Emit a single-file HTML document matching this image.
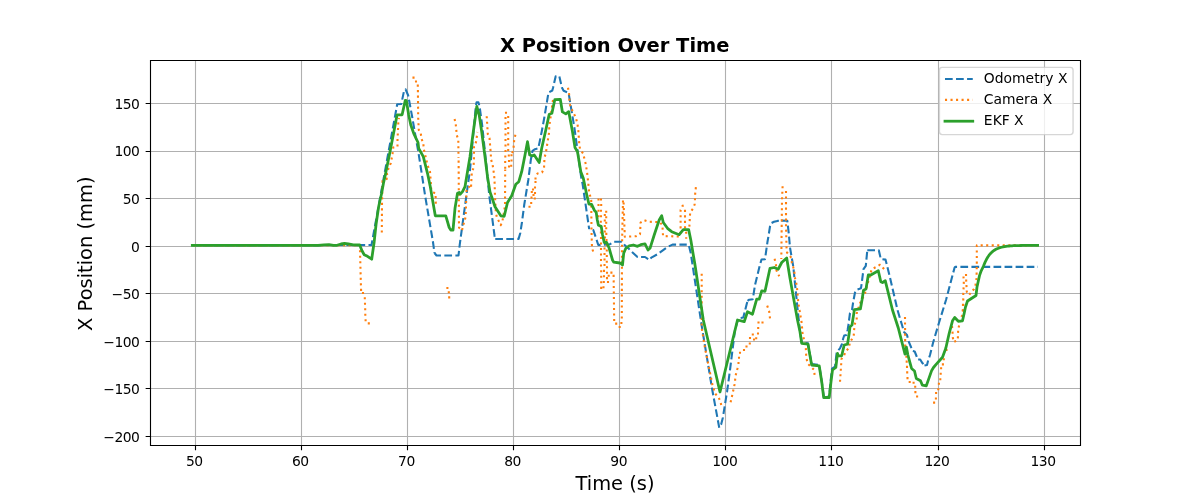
<!DOCTYPE html>
<html><head><meta charset="utf-8"><title>X Position Over Time</title>
<style>html,body{margin:0;padding:0;background:#fff;overflow:hidden}svg{display:block;will-change:transform}</style></head>
<body>
<svg width="1200" height="500" viewBox="0 0 1200 500">
<rect x="0" y="0" width="1200" height="500" fill="#ffffff"/>
<defs><clipPath id="ax"><rect x="150" y="60" width="930" height="385"/></clipPath></defs>
<path d="M195.5 60 V445 M301.5 60 V445 M407.5 60 V445 M513.5 60 V445 M619.5 60 V445 M725.5 60 V445 M831.5 60 V445 M938.5 60 V445 M1044.5 60 V445 M150 436.5 H1080 M150 388.5 H1080 M150 341.5 H1080 M150 293.5 H1080 M150 246.5 H1080 M150 198.5 H1080 M150 151.5 H1080 M150 103.5 H1080" fill="none" stroke="#b0b0b0" stroke-width="1.111"/>
<g clip-path="url(#ax)" fill="none" stroke-linejoin="round">
<path d="M192.3 245.3 L371.5 245 L397.2 104.3 L401.3 104 L403.8 92 L405.6 89.3 L408.2 95.5 L412.2 117 L415 133.3 L418.3 151.7 L421.7 173.3 L425 195 L432.9 241.5 L434.5 253" stroke="#1f77b4" stroke-width="2.083" stroke-dasharray="7.708 3.333" stroke-dashoffset="0.450"/>
<path d="M434.5 253 L436.5 255.5 L458.5 255.5 L459.7 245 L466.7 193.3 L470 170 L475.9 105.5 L476.6 102.3 L478.4 102.3 L479.6 106.5 L482.2 125.5 L486.7 168.3 L489.2 195 L494.5 235.5 L495.1 239" stroke="#1f77b4" stroke-width="2.083" stroke-dasharray="7.708 3.333" stroke-dashoffset="0.000"/>
<path d="M495.1 239 L518.6 238.9 L520.3 233 L522 222 L524.2 205 L528.3 180 L530.8 160 L532.5 150.8 L535 149.2 L538.3 148.3 L541.7 131.7 L544.2 118.3 L548.5 92.5 L552.3 90.5 L553 88 L555.7 76.2 L559.3 76.2" stroke="#1f77b4" stroke-width="2.083" stroke-dasharray="7.708 3.333" stroke-dashoffset="10.892"/>
<path d="M559.3 76.2 L561.9 87.5 L563.6 90.8 L567.2 92.3 L568.6 93 L574.4 127.8 L581.7 181 L582.5 183.3 L589.2 229.2" stroke="#1f77b4" stroke-width="2.083" stroke-dasharray="7.708 3.333" stroke-dashoffset="10.742"/>
<path d="M589.2 229.2 L593.3 230 L598.3 245 L610 244.2 L613.3 242 L614.2 241.7" stroke="#1f77b4" stroke-width="2.083" stroke-dasharray="7.708 3.333" stroke-dashoffset="7.536"/>
<path d="M614.2 241.7 L621.8 241.7 L624.6 245 L629.6 249.6 L632 252 L637.5 257 L645 257 L649.5 260 L651.3 257.7 L657.5 254.2 L666.7 247.5 L672.5 244.6 L680 244.6" stroke="#1f77b4" stroke-width="2.083" stroke-dasharray="7.708 3.333" stroke-dashoffset="0.000"/>
<path d="M680 244.6 L688.7 244.6 L690.8 253.3 L701.7 325.8 L712.3 390 L719.25 427.8" stroke="#1f77b4" stroke-width="2.083" stroke-dasharray="7.708 3.333" stroke-dashoffset="0.949"/>
<path d="M719.25 427.8 L721.1 424.6 L722.9 417.5 L724.7 406.2 L727.1 391.4 L730 370 L735 330 L738.3 318.3 L743.3 317.5 L747.5 300.8" stroke="#1f77b4" stroke-width="2.083" stroke-dasharray="7.708 3.333" stroke-dashoffset="7.542"/>
<path d="M747.5 300.8 L749.2 299.7 L752.8 299.2 L755 285 L760 264.5 L760.5 263" stroke="#1f77b4" stroke-width="2.083" stroke-dasharray="7.708 3.333" stroke-dashoffset="1.456"/>
<path d="M760.5 263 L761.5 259.5 L765 259.2 L767.5 241.7 L768.75 234.5 L770 226.5 L771.2 223.2 L774 221.8 L777.5 220.9 L781.25 220.6" stroke="#1f77b4" stroke-width="2.083" stroke-dasharray="7.708 3.333" stroke-dashoffset="0.000"/>
<path d="M781.25 220.6 L787.3 220.7 L788.75 233.3 L790 247.5 L793.3 266.7 L797.5 308.3 L800 331 L801.7 342.5 L808 343.4 L810 355 L811.7 364 L819.2 365 L821.7 381 L823.7 396.7 L829.2 396.7" stroke="#1f77b4" stroke-width="2.083" stroke-dasharray="7.708 3.333" stroke-dashoffset="0.000"/>
<path d="M829.2 396.7 L830.6 381 L832 368.5 L835 366.5 L836.6 353 L837.3 351.5 L840 348.3 L842 344 L843.2 338.5 L844.2 335.5 L846.6 335 L847.6 330 L848.6 324 L849 320.5" stroke="#1f77b4" stroke-width="2.083" stroke-dasharray="7.708 3.333" stroke-dashoffset="6.261"/>
<path d="M849 320.5 L850 313 L852 310 L853.2 302 L855 292.5 L856.5 289.8 L861 288.2 L861.6 284 L863.5 269.2 L865.8 265.8 L867.3 250.3" stroke="#1f77b4" stroke-width="2.083" stroke-dasharray="7.708 3.333" stroke-dashoffset="0.000"/>
<path d="M867.3 250.3 L878.8 250.3 L880.8 259 L885.5 259.6 L889.2 274.2 L897.5 310 L902 325 L904 332 L907 335 L908.5 341 L911 347 L912.5 351 L914.7 351.5 L916.5 356 L917.5 359.5 L920.2 359.5 L922 362.5 L924.5 365.5" stroke="#1f77b4" stroke-width="2.083" stroke-dasharray="7.708 3.333" stroke-dashoffset="0.000"/>
<path d="M924.5 365.5 L927 365 L928 361 L930 355 L933 343 L938 326 L946 300 L954.6 267.5 L955.3 266.9 L960.4 266.9" stroke="#1f77b4" stroke-width="2.083" stroke-dasharray="7.708 3.333" stroke-dashoffset="0.487"/>
<path d="M960.4 266.9 L1038 266.9" stroke="#1f77b4" stroke-width="2.083" stroke-dasharray="7.708 3.333" stroke-dashoffset="0.000"/>
<path d="M193.9 245.4 L359.7 245.3" stroke="#ff7f0e" stroke-width="2.083" stroke-dasharray="2.083 3.438"/>
<path d="M360 250.2 L360.6 273.6 L361.1 291.04" stroke="#ff7f0e" stroke-width="2.083" stroke-dasharray="2.083 3.438"/>
<path d="M381.8 232.5 L382 203 L382.5 181 L388 178 L386.7 173 L390.8 163 L392.5 154 L393.3 147.5 L397.5 146.7 L397.5 140 L398 130 L398.3 123 L399 118" stroke="#ff7f0e" stroke-width="2.083" stroke-dasharray="2.083 3.438"/>
<path d="M417.9 90.06 L418.2 118 L418.8 130 L420.8 133.5 L421.5 138.8 L423.4 143.5 L423.6 148.3 L425.8 157.5 L427.5 165 L430 171.7 L430.8 182 L431.2 189 L433 192.5 L435.5 193 L435.8 204.6" stroke="#ff7f0e" stroke-width="2.083" stroke-dasharray="2.083 3.438"/>
<path d="M454.6 119 L455.8 124.8 L456.8 135.2 L458.3 139.8 L458.5 158" stroke="#ff7f0e" stroke-width="2.083" stroke-dasharray="2.083 3.438"/>
<path d="M458.6 160.56 L458.8 190 L459 227.6 L462 230.6 L463 225.8 L464.6 221 L465.6 216.8 L465.8 211.4 L466 206 L466.6 188.6 L469.2 186.8 L471 188.6 L471.2 183 L471.8 172.5 L473.5 168 L474 157 L474 146 L476 142.2 L477.5 132" stroke="#ff7f0e" stroke-width="2.083" stroke-dasharray="2.083 3.438"/>
<path d="M486.7 116.2 L487.8 134 L489.5 138.2 L490.8 154 L491 159.5 L492.5 164 L494 174 L494.5 180 L495 196 L495.8 212 L496.8 217 L500.8 225.2 L502.5 220.8 L505 206 L505.2 169.5" stroke="#ff7f0e" stroke-width="2.083" stroke-dasharray="2.083 3.438"/>
<path d="M515.4 134.8 L514.2 140 L513.8 145.5 L513 150.8 L512 153.5" stroke="#ff7f0e" stroke-width="2.083" stroke-dasharray="2.083 3.438"/>
<path d="M553 100 L549.2 126.8 L549.2 131.7 L545.8 153.3 L544.5 157.5 L544 168.5 L542 172.5 L537.5 173.5 L535.5 176.5 L535.5 180" stroke="#ff7f0e" stroke-width="2.083" stroke-dasharray="2.083 3.438"/>
<path d="M568 87.7 L569.1 94 L569.7 104.1 L572.5 111 L575.8 117.5 L577.5 124.2 L578.3 130 L579.2 143.3 L580 149.2 L583 153.3 L585.8 164.2 L587.2 173.3 L588.3 183.3 L588.8 189 L589.5 194.5 L591.2 198 L591.5 231 L592 248 L593.5 252.5" stroke="#ff7f0e" stroke-width="2.083" stroke-dasharray="2.083 3.438"/>
<path d="M613.6 274.86 L614.2 321.1" stroke="#ff7f0e" stroke-width="2.083" stroke-dasharray="2.083 3.438"/>
<path d="M621.8 318.54 L621.9 280 L622 246 L623 200" stroke="#ff7f0e" stroke-width="2.083" stroke-dasharray="2.083 3.438"/>
<path d="M623.6 202.5 L624.8 236.8 L636 236.2 L640 234.2 L640.6 222.6 L644.2 220.2 L649 221.8 L655.6 222 L659.8 222 L662.2 225 L662.8 230.4 L663 236 L679.4 236.6 L680.6 232 L680.6 210 L682.6 205.8 L685 205" stroke="#ff7f0e" stroke-width="2.083" stroke-dasharray="2.083 3.438"/>
<path d="M685 209.8 L685 227.2 L686.2 232.8 L686.2 238.8" stroke="#ff7f0e" stroke-width="2.083" stroke-dasharray="2.083 3.438"/>
<path d="M695.9 187.2 L695.2 193.4 L695 199 L694.6 204.6 L692.8 208.8 L690.2 212.4 L689.8 217.8 L689.6 223.2 L689.2 228.4" stroke="#ff7f0e" stroke-width="2.083" stroke-dasharray="2.083 3.438"/>
<path d="M701.7 273.7 L701.7 328 L703.3 338 L705 348 L712.5 385 L715.2 393.6 L718.1 396.8 L720.2 400.6 L721.5 406.3" stroke="#ff7f0e" stroke-width="2.083" stroke-dasharray="2.083 3.438"/>
<path d="M730.6 402.3 L733 391.7 L735 382.5 L735.3 376.7 L737.5 368.3 L738 366" stroke="#ff7f0e" stroke-width="2.083" stroke-dasharray="2.083 3.438"/>
<path d="M767.2 305.7 L769.2 311.7 L770 318.3" stroke="#ff7f0e" stroke-width="2.083" stroke-dasharray="2.083 3.438"/>
<path d="M774.6 258.8 L776 265 L776.5 270.5 L778.1 274.2 L779.3 276.3" stroke="#ff7f0e" stroke-width="2.083" stroke-dasharray="2.083 3.438"/>
<path d="M782.6 186.2 L782 200 L781.3 259" stroke="#ff7f0e" stroke-width="2.083" stroke-dasharray="2.083 3.438"/>
<path d="M786 191 L786 225 L786.5 247 L787 252.5 L791.5 258 L791.8 263 L793.5 268 L794.5 273 L795 278 L796.7 285 L797.5 293 L798.3 303 L801.7 323 L802.5 333.3 L805.8 347.5 L806.3 358.3 L808.3 364.2 L814.2 370 L814.7 376.8" stroke="#ff7f0e" stroke-width="2.083" stroke-dasharray="2.083 3.438"/>
<path d="M840 381.8 L840.8 370 L841.5 359 L844 355.5 L846 351 L849 348 L849.8 342.8 L852 339 L853.8 334.8 L854.2 329 L855 323.5 L856.7 320 L856.7 313.3 L860 303.3 L865 293.3 L871.7 269.2 L876.7 266.7 L880 264.7 L885.8 270.8" stroke="#ff7f0e" stroke-width="2.083" stroke-dasharray="2.083 3.438"/>
<path d="M905 317 L905.2 346.9" stroke="#ff7f0e" stroke-width="2.083" stroke-dasharray="2.083 3.438"/>
<path d="M963 303.8 L962.8 310 L962 315.5 L960.8 319 L959.5 324 L958.2 329 L958 334.5 L957.8 340 L953.8 342 L952.8 337.5 L952.5 332 L952 326" stroke="#ff7f0e" stroke-width="2.083" stroke-dasharray="2.083 3.438"/>
<path d="M963.2 311.5 L963.3 294 L963.8 283 L963.5 276.5" stroke="#ff7f0e" stroke-width="2.083" stroke-dasharray="2.083 3.438"/>
<path d="M966 274 L966.2 280.8 L966.5 286.3 L966.8 291.8 L969 295 L971.5 292 L974 289 L975.5 284.5 L976.5 279 L976.8 265" stroke="#ff7f0e" stroke-width="2.083" stroke-dasharray="2.083 3.438"/>
<path d="M976.8 263.64 L976.8 245.4 L1037.6 245.4" stroke="#ff7f0e" stroke-width="2.083" stroke-dasharray="2.083 3.438"/>
<path d="M610.36 272.6h2.08 M615.16 323.6h2.08 M618.66 327h2.08 M620.36 323h2.08 M904.76 351.2h2.08 M905.36 356.7h2.08 M905.66 361.6h2.08 M905.96 366.9h2.08 M906.16 372.4h2.08 M906.46 378.1h2.08 M908.66 382h2.08 M912.56 382.7h2.08 M914.16 386.7h2.08 M914.36 392.1h2.08 M916.06 396.5h2.08 M933.06 402.6h2.08 M934.86 398.5h2.08 M935.06 393h2.08 M937.26 389.3h2.08 M937.86 383.8h2.08 M939.26 379.2h2.08 M939.66 373.7h2.08 M940.06 368.2h2.08 M941.86 364.4h2.08 M942.76 359.2h2.08 M945.46 350h2.08 M361.96 293h2.08 M363.76 298.2h2.08 M363.96 303.8h2.08 M364.16 309.2h2.08 M364.26 314.8h2.08 M364.56 320.2h2.08 M367.76 323.4h2.08 M446.36 288h2.08 M447.76 292.3h2.08 M448.16 297.4h2.08 M737.46 363h2.08 M737.96 357.8h2.08 M738.96 352.8h2.08 M742.96 350h2.08 M745.46 346.5h2.08 M748.76 343.5h2.08 M748.96 338h2.08 M751.76 334.5h2.08 M752.96 339.5h2.08 M755.16 338.2h2.08 M756.96 333.5h2.08 M757.16 328h2.08 M757.46 322.5h2.08 M761.46 322.5h2.08 M412.46 77.6h2.08 M414.96 81.5h2.08 M416.76 85.6h2.08 M504.96 112.8h2.08 M507.16 117h2.08 M504.46 118h2.08 M507.16 122.2h2.08 M504.46 123.5h2.08 M507.16 128h2.08 M504.46 129h2.08 M507.16 133.2h2.08 M504.46 134.5h2.08 M507.16 139h2.08 M504.46 140h2.08 M507.16 144.5h2.08 M504.46 145.5h2.08 M507.16 150h2.08 M504.46 151h2.08 M507.76 155.5h2.08 M510.46 155.2h2.08 M504.26 156.5h2.08 M507.96 161h2.08 M510.46 160.5h2.08 M504.16 162h2.08 M507.96 166.5h2.08 M510.16 165.8h2.08 M504.16 167.8h2.08 M534.46 182h2.08 M533.96 187.5h2.08 M531.96 189.5h2.08 M530.76 192h2.08 M533.96 193h2.08 M532.46 195h2.08 M530.46 197.5h2.08 M533.76 198.5h2.08 M530.16 203h2.08 M528.46 206.8h2.08 M597.46 199.5h2.08 M599.96 199.5h2.08 M597.46 205h2.08 M600.16 205h2.08 M597.46 210.8h2.08 M599.96 210.8h2.08 M597.46 216.2h2.08 M599.96 216.2h2.08 M599.76 221.8h2.08 M599.76 227h2.08 M599.86 232.5h2.08 M599.96 238h2.08 M599.96 243.5h2.08 M599.96 249h2.08 M599.96 254.5h2.08 M599.96 260h2.08 M599.96 265.5h2.08 M600.16 271.3h2.08 M602.96 270.9h2.08 M600.16 276.7h2.08 M602.96 276.2h2.08 M600.16 282.3h2.08 M602.76 282h2.08 M600.16 287.9h2.08 M602.46 287.3h2.08 M605.16 211.8h2.08 M603.76 215h2.08 M605.16 217.2h2.08 M603.76 220.5h2.08 M605.16 222.8h2.08 M603.76 226h2.08 M605.16 228.2h2.08 M603.76 231.5h2.08 M605.26 233.9h2.08 M603.96 237.5h2.08 M605.46 240h2.08 M603.96 243h2.08 M605.76 245.2h2.08 M603.46 248.5h2.08 M605.76 250.5h2.08 M603.46 254h2.08 M605.76 256h2.08 M603.46 259.5h2.08 M605.76 261.8h2.08 M603.46 265h2.08 M605.96 267.2h2.08 M605.96 272.7h2.08 M607.66 275.8h2.08 M605.96 278.1h2.08 M606.96 282h2.08" stroke="#ff7f0e" stroke-width="2.083"/>
<path d="M192.3 245.4 L318 245.4 L324 244.9 L329 244.7 L333.5 245.4 L337 245.3 L341 244 L344.5 243.5 L348.3 243.8 L353.3 244.8 L359.7 245 L362 250.8 L364.2 254.7 L367.5 256.3 L371.7 259.2 L374.2 241.7 L376.1 224 L378.6 207 L380.1 200 L381.5 194 L383.4 183.5 L385.3 175 L390 151.7 L394.2 130 L396.7 116.7 L397.1 114.8 L402.1 114.8 L405.3 100.3 L406.4 100.6 L408.7 115 L410.8 125 L413.7 133.3 L418 142.5 L418.7 148.3 L423.3 156.7 L427.5 173.3 L430.3 186.7 L431.7 195 L435.3 215.8 L445.8 215.8 L449.2 227.5 L450.8 230 L453 230 L455 208.3 L457.5 193.3 L459.2 192.5 L460.3 194.2 L462.5 191.7 L465 186.7 L465.8 181.7 L470 156.7 L473.3 131.7 L476.8 106.5 L479.2 115 L481.7 131.7 L485 156.7 L487.5 176.7 L490 192 L492.5 199.2 L495 206.7 L500.8 215.8 L504.2 216.3 L507.5 202.5 L511.7 195.8 L515.8 184.2 L518.8 181.7 L521.7 171.7 L525 155 L527.5 141.7 L529.7 155 L532.5 155.8 L534.2 155 L539.2 162.5 L541.7 148.3 L545.8 130 L549.2 114.2 L551.9 113.2 L554.8 99.7 L560.3 99.3 L562.4 111.9 L565.8 113.9 L568.7 111.6 L572.5 131.7 L575 147.5 L577.5 151.7 L580.8 171.7 L583.3 178.3 L586.7 194.5 L588.9 204 L591.6 204.3 L594.3 210.2 L596.2 212.2 L597.3 220 L598.4 225.2 L601.2 226.3 L602.6 235 L604.2 242.5 L606.7 242.5 L609.2 248.3 L612.5 260 L613.7 262.2 L620 263 L622.5 265 L623.7 253.3 L625.8 248.3 L629.2 245.8 L633.3 245 L637.5 246.3 L640.8 244.7 L645 243.8 L648 250 L650 248.3 L654.2 235 L659.2 220 L661.7 215.8 L663.3 222.5 L667.5 228.3 L671.7 231.7 L679.2 234.7 L683.3 229.7 L688.7 229.7 L690.8 240 L693.3 255 L694.7 263 L703.3 320 L720 392 L737.5 320 L744.2 321.7 L747.5 311.7 L752.5 314.2 L756.7 299.2 L759.2 299.2 L761.7 290.8 L765 291.3 L770 268.3 L774.2 267.5 L778.3 269.2 L781.7 262.5 L786.7 258 L790 278.3 L797.5 320 L800 331.7 L801.7 343.3 L808 344.2 L810 355.8 L811.7 365 L819.2 365.8 L821.7 381.7 L823.7 397.5 L829.2 397.5 L830.8 383.3 L832.5 370 L835.8 367.5 L837.5 353.3 L838.3 355.8 L841.7 355.8 L844.2 345 L847.5 344.2 L849.2 333.3 L850 326.7 L852 325 L854.4 309.6 L860.4 308.9 L862 300 L863.5 290.2 L866 289 L868.3 275 L870.8 275 L878.3 270.8 L880.8 281.7 L882.5 282.5 L885.3 280.8 L892.5 310 L898.3 328 L905 354.2 L906.4 347.2 L907.9 355 L910.3 363.8 L911.6 368.5 L914.5 371 L916.3 378.5 L920.5 380.8 L922.4 385.2 L926.3 385.8 L929 378.1 L931.7 370.4 L933.5 367.5 L936.1 364.4 L941.6 358.3 L942.5 357.3 L945.8 348.3 L949.2 333.3 L952.5 320.8 L954.7 317.5 L958.3 321.3 L962.5 320.8 L964.2 313.3 L965.5 307 L967.5 301 L976 295.5 L977 287 L979.5 275.6 L981.2 270.8 L983.4 266.3 L985 262.37 L986.5 259.28 L988 256.76 L989.5 254.69 L991 253 L992.5 251.61 L994 250.48 L995.5 249.55 L997 248.79 L998.5 248.16 L1000 247.65 L1001.5 247.24 L1003 246.89 L1004.5 246.61 L1006 246.38 L1007.5 246.2 L1009 246.04 L1010.5 245.92 L1012 245.81 L1013.5 245.73 L1015 245.66 L1016.5 245.61 L1018 245.56 L1019.5 245.52 L1021 245.49 L1022.5 245.46 L1024 245.44 L1025.5 245.43 L1037.6 245.35" stroke="#2ca02c" stroke-width="2.778" stroke-linecap="square"/>
</g>
<path d="M195.5 445.5 v4.861 M301.5 445.5 v4.861 M407.5 445.5 v4.861 M513.5 445.5 v4.861 M619.5 445.5 v4.861 M725.5 445.5 v4.861 M831.5 445.5 v4.861 M938.5 445.5 v4.861 M1044.5 445.5 v4.861 M150.5 436.5 h-4.861 M150.5 388.5 h-4.861 M150.5 341.5 h-4.861 M150.5 293.5 h-4.861 M150.5 246.5 h-4.861 M150.5 198.5 h-4.861 M150.5 151.5 h-4.861 M150.5 103.5 h-4.861" fill="none" stroke="#000" stroke-width="1.111"/>
<path d="M150.5 60.5 H1080.5 V445.5 H150.5 Z" fill="none" stroke="#000" stroke-width="1.111" stroke-linejoin="miter"/>
<g style="font-family:'DejaVu Sans','Liberation Sans',sans-serif;font-size:13.889px;letter-spacing:-0.5px" fill="#000">
<text x="194.25" y="466.3" text-anchor="middle">50</text>
<text x="300.35" y="466.3" text-anchor="middle">60</text>
<text x="406.45" y="466.3" text-anchor="middle">70</text>
<text x="512.55" y="466.3" text-anchor="middle">80</text>
<text x="618.65" y="466.3" text-anchor="middle">90</text>
<text x="724.75" y="466.3" text-anchor="middle">100</text>
<text x="830.85" y="466.3" text-anchor="middle">110</text>
<text x="936.95" y="466.3" text-anchor="middle">120</text>
<text x="1043.05" y="466.3" text-anchor="middle">130</text>
<text x="139.4" y="441.78" text-anchor="end">−200</text>
<text x="139.4" y="394.21" text-anchor="end">−150</text>
<text x="139.4" y="346.64" text-anchor="end">−100</text>
<text x="139.4" y="299.07" text-anchor="end">−50</text>
<text x="139.4" y="251.5" text-anchor="end">0</text>
<text x="139.4" y="203.93" text-anchor="end">50</text>
<text x="139.4" y="156.36" text-anchor="end">100</text>
<text x="139.4" y="108.79" text-anchor="end">150</text>
</g>
<text x="615" y="490.2" text-anchor="middle" style="font-family:'DejaVu Sans','Liberation Sans',sans-serif;font-size:19.444px">Time (s)</text>
<text transform="translate(91.5 253.7) rotate(-90)" text-anchor="middle" style="font-family:'DejaVu Sans','Liberation Sans',sans-serif;font-size:19.444px">X Position (mm)</text>
<text x="614.7" y="51.5" text-anchor="middle" style="font-family:'DejaVu Sans','Liberation Sans',sans-serif;font-size:19.444px;font-weight:bold">X Position Over Time</text>
<rect x="939.43" y="67.4" width="133.63" height="67.2" rx="2.778" fill="#fff" fill-opacity="0.8" stroke="#ccc" stroke-opacity="0.8" stroke-width="1.389"/>
<path d="M944.986 79 H972.763" fill="none" stroke="#1f77b4" stroke-width="2.083" stroke-dasharray="7.708 3.333"/>
<path d="M944.986 99.9 H972.763" fill="none" stroke="#ff7f0e" stroke-width="2.083" stroke-dasharray="2.083 3.438"/>
<path d="M944.986 121.2 H972.763" fill="none" stroke="#2ca02c" stroke-width="2.778" stroke-linecap="square"/>
<g style="font-family:'DejaVu Sans','Liberation Sans',sans-serif;font-size:13.889px" fill="#000">
<text x="983.87" y="83.05">Odometry X</text>
<text x="983.87" y="104.25">Camera X</text>
<text x="983.87" y="125.1">EKF X</text>
</g>
</svg>
</body></html>
